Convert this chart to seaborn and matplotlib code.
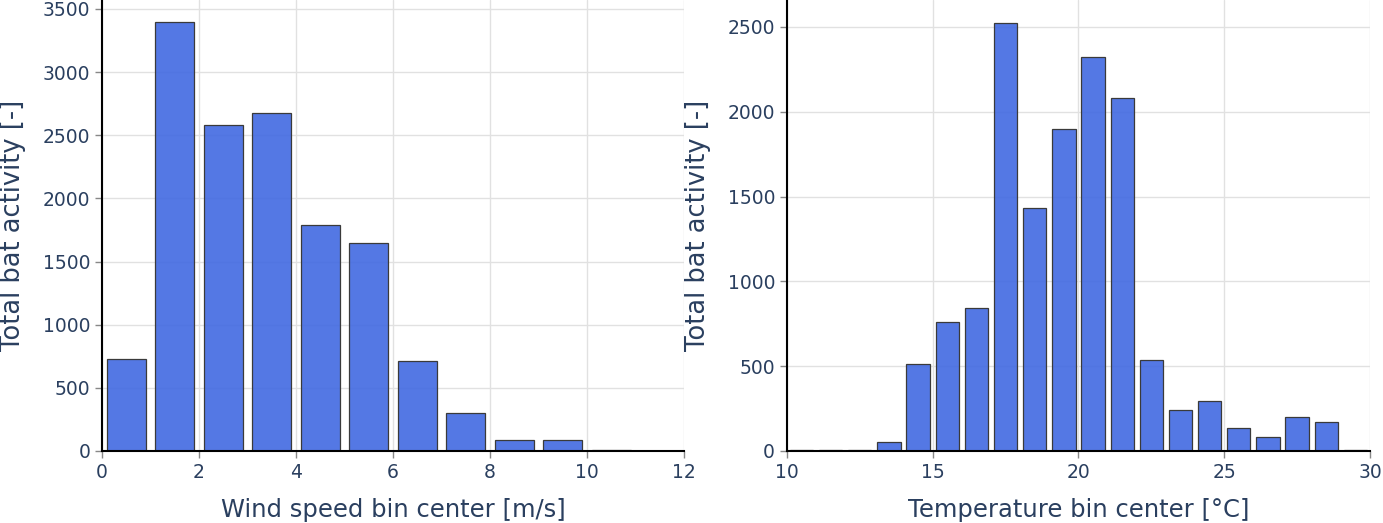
import pandas as pd
import seaborn as sns
import matplotlib.pyplot as plt

# wind speed bins
wind_centers = [0.5, 1.5, 2.5, 3.5, 4.5, 5.5, 6.5, 7.5, 8.5, 9.5, 10.5, 11.5]
wind_activity = [728, 3397, 2581, 2676, 1789, 1647, 712, 301, 87, 85, 5, 3]

# temperature bins
temp_centers = [10.5, 11.5, 12.5, 13.5, 14.5, 15.5, 16.5, 17.5, 18.5, 19.5,
                20.5, 21.5, 22.5, 23.5, 24.5, 25.5, 26.5, 27.5, 28.5, 29.5]
temp_activity = [5, 3, 8, 53, 513, 760, 843, 2525, 1433, 1899,
                 2323, 2081, 537, 242, 295, 136, 83, 200, 171, 3]

txt = '#2a3f5f'
bar_color = (0.2549, 0.4118, 0.8824, 0.9)

sns.set_style('whitegrid', {'grid.color': '#e1e1e1'})
plt.rcParams['font.family'] = ['DejaVu Sans']

fig = plt.figure(figsize=(13.83, 5.23), dpi=100)
ax1 = fig.add_axes([0.0738, 0.1377, 0.4208, 0.8623])
ax2 = fig.add_axes([0.569, 0.1377, 0.4216, 0.8623])

df_w = pd.DataFrame({'center': wind_centers, 'activity': wind_activity})
df_t = pd.DataFrame({'center': temp_centers, 'activity': temp_activity})

sns.barplot(data=df_w, x='center', y='activity', native_scale=True, ax=ax1,
            color=bar_color, edgecolor='#3a3a3a', linewidth=0.9, saturation=1)
sns.barplot(data=df_t, x='center', y='activity', native_scale=True, ax=ax2,
            color=bar_color, edgecolor='#3a3a3a', linewidth=0.9, saturation=1)

ax1.set_xlim(0, 12)
ax1.set_ylim(0, 3571)
ax1.set_xticks([0, 2, 4, 6, 8, 10, 12])
ax1.set_yticks([0, 500, 1000, 1500, 2000, 2500, 3000, 3500])
ax1.set_xlabel('Wind speed bin center [m/s]')

ax2.set_xlim(10, 30)
ax2.set_ylim(0, 2659)
ax2.set_xticks([10, 15, 20, 25, 30])
ax2.set_yticks([0, 500, 1000, 1500, 2000, 2500])
ax2.set_xlabel('Temperature bin center [°C]')

for ax in (ax1, ax2):
    ax.set_ylabel('Total bat activity [-]')
    ax.xaxis.label.set_color(txt)
    ax.yaxis.label.set_color(txt)
    ax.xaxis.label.set_fontsize(17.5)
    ax.yaxis.label.set_fontsize(18.5)
    ax.xaxis.labelpad = 12
    ax.yaxis.labelpad = 12
    ax.tick_params(axis='both', labelsize=13.5, colors=txt, length=5, width=1,
                   direction='out', left=True, bottom=True)
    ax.tick_params(axis='both', color='#888888')
    ax.grid(True, color='#e1e1e1', linewidth=1)
    ax.set_axisbelow(True)
    for side in ('top', 'right'):
        ax.spines[side].set_visible(False)
    for side in ('left', 'bottom'):
        ax.spines[side].set_color('black')
        ax.spines[side].set_linewidth(1.5)

fig.savefig('out.png', dpi=100)
